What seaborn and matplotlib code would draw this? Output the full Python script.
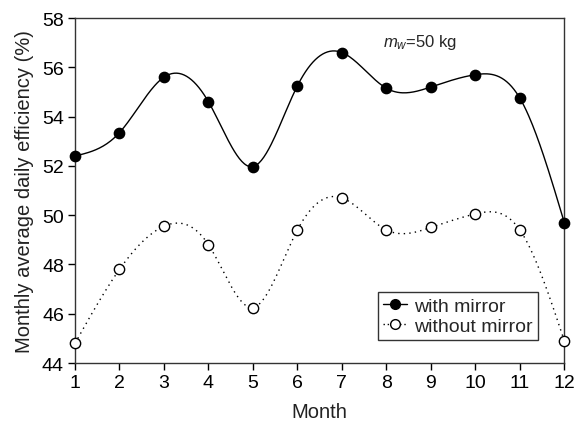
import numpy as np
import pandas as pd
import matplotlib
matplotlib.use("Agg")
import matplotlib.pyplot as plt
from matplotlib.lines import Line2D
import seaborn as sns

months = [1, 2, 3, 4, 5, 6, 7, 8, 9, 10, 11, 12]
with_mirror = [52.4, 53.35, 55.6, 54.6, 51.97, 55.25, 56.6, 55.15, 55.2, 55.7, 54.75, 49.7]
without_mirror = [44.8, 47.8, 49.55, 48.8, 46.25, 49.4, 50.7, 49.4, 49.5, 50.05, 49.4, 44.9]
y_ticks = [44, 46, 48, 50, 52, 54, 56, 58]


def natural_spline(x, y, n=400):
    x = np.asarray(x, float)
    y = np.asarray(y, float)
    k = len(x)
    h = np.diff(x)
    A = np.zeros((k, k))
    b = np.zeros(k)
    A[0, 0] = 1
    A[-1, -1] = 1
    for i in range(1, k - 1):
        A[i, i - 1] = h[i - 1]
        A[i, i] = 2 * (h[i - 1] + h[i])
        A[i, i + 1] = h[i]
        b[i] = 6 * ((y[i + 1] - y[i]) / h[i] - (y[i] - y[i - 1]) / h[i - 1])
    M = np.linalg.solve(A, b)
    xs = np.linspace(x[0], x[-1], n)
    idx = np.clip(np.searchsorted(x, xs) - 1, 0, k - 2)
    x0, x1 = x[idx], x[idx + 1]
    hh = x1 - x0
    a = (x1 - xs) / hh
    c = (xs - x0) / hh
    ys = (a * y[idx] + c * y[idx + 1]
          + ((a ** 3 - a) * M[idx] + (c ** 3 - c) * M[idx + 1]) * hh ** 2 / 6)
    return xs, ys


sns.set_theme(style="ticks")
plt.rcParams['font.family'] = ['Liberation Sans', 'DejaVu Sans']
plt.rcParams['mathtext.fontset'] = 'custom'
plt.rcParams['mathtext.it'] = 'Liberation Sans:italic'
plt.rcParams['mathtext.rm'] = 'Liberation Sans'

fig = plt.figure(figsize=(5.77, 4.27), dpi=100)
ax = fig.add_axes([0.130, 0.1475, 0.848, 0.808])

xs1, ys1 = natural_spline(months, with_mirror)
xs2, ys2 = natural_spline(months, without_mirror)
sns.lineplot(x=xs1, y=ys1, ax=ax, color="black", lw=1.0, sort=False)
sns.lineplot(x=xs2, y=ys2, ax=ax, color="black", lw=1.0, linestyle=(0, (1, 3)), sort=False)

df1 = pd.DataFrame({"m": months, "v": with_mirror})
df2 = pd.DataFrame({"m": months, "v": without_mirror})
sns.scatterplot(data=df1, x="m", y="v", ax=ax, color="black", s=55, edgecolor="black",
                linewidth=1.0, zorder=5, clip_on=False)
sns.scatterplot(data=df2, x="m", y="v", ax=ax, color="white", s=55, edgecolor="black",
                linewidth=1.0, zorder=5, clip_on=False)

ax.set_xlim(1, 12)
ax.set_ylim(44, 58)
ax.set_xticks(months)
ax.set_yticks(y_ticks)
ax.tick_params(axis="both", direction="out", length=5, width=1, labelsize=14,
               colors="black", top=False, right=False, pad=3)
for s in ax.spines.values():
    s.set_color("#333333")
    s.set_linewidth(1.0)
ax.set_xlabel("Month", fontsize=14.5, color="#222222", labelpad=8)
ax.set_ylabel("Monthly average daily efficiency (%)", fontsize=14.5, color="#222222",
              labelpad=6)

ax.text(8.75, 57.05, r"$m_w$=50 kg", fontsize=12, ha="center", va="center")

handles = [
    Line2D([], [], color="black", lw=1.0, marker="o", markersize=7,
           markerfacecolor="black", markeredgecolor="black"),
    Line2D([], [], color="black", lw=1.0, linestyle=(0, (1, 2)), marker="o", markersize=7,
           markerfacecolor="white", markeredgecolor="black"),
]
leg = ax.legend(handles, ["with mirror", "without mirror"], loc="lower right",
                bbox_to_anchor=(0.946, 0.067), fontsize=14, frameon=True, fancybox=False,
                edgecolor="black", handlelength=1.2, handletextpad=0.4, borderpad=0.25,
                labelspacing=0.15, borderaxespad=0)
leg.get_frame().set_linewidth(1.0)

fig.savefig("out.png", dpi=100)
